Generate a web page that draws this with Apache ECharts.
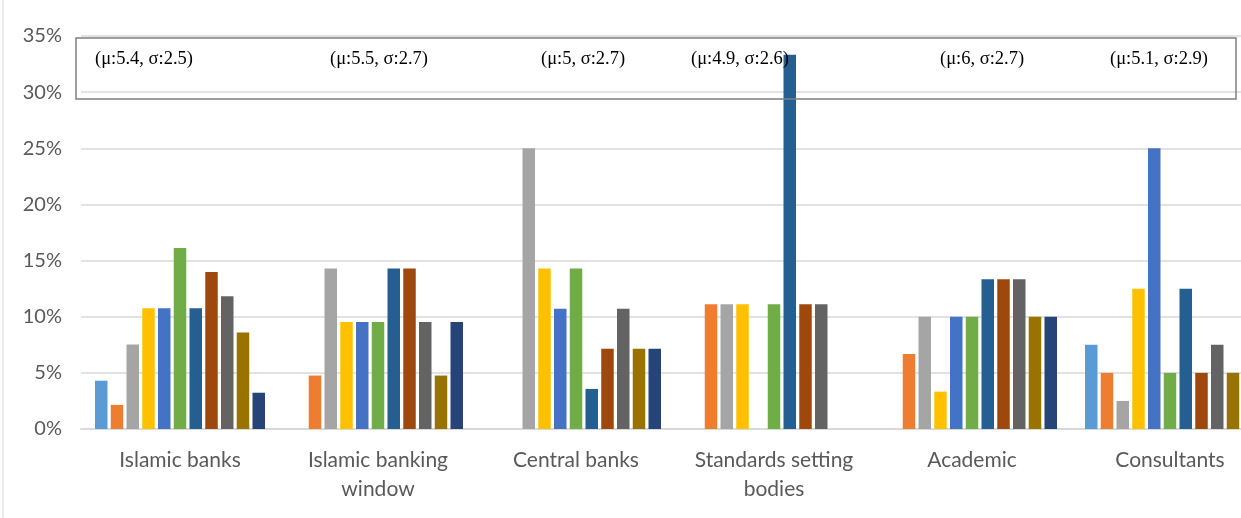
<!DOCTYPE html>
<html>
<head>
<meta charset="utf-8">
<script src="https://cdn.jsdelivr.net/npm/echarts@6/dist/echarts.min.js"></script>
<style>
  html, body { margin: 0; padding: 0; background: #fff; }
  #main { width: 1241px; height: 518px; }
</style>
</head>
<body>
<div id="main"></div>
<script>
// categories (respondent groups)
var categories = ["Islamic banks", "Islamic banking\nwindow", "Central banks", "Standards setting\nbodies", "Academic", "Consultants"];

// share of answers per score (0..10), in %
var score0 = [4.30, 0, 0, 0, 0, 7.50];
var score1 = [2.15, 4.76, 0, 11.11, 6.67, 5.00];
var score2 = [7.53, 14.29, 25.00, 11.11, 10.00, 2.50];
var score3 = [10.75, 9.52, 14.29, 11.11, 3.33, 12.50];
var score4 = [10.75, 9.52, 10.71, 0, 10.00, 25.00];
var score5 = [16.13, 9.52, 14.29, 11.11, 10.00, 5.00];
var score6 = [10.75, 14.29, 3.57, 33.33, 13.33, 12.50];
var score7 = [13.98, 14.29, 7.14, 11.11, 13.33, 5.00];
var score8 = [11.83, 9.52, 10.71, 11.11, 13.33, 7.50];
var score9 = [8.60, 4.76, 7.14, 0, 10.00, 5.00];
var score10 = [3.23, 9.52, 7.14, 0, 10.00, 12.50];

var scoreNames = ["0", "1", "2", "3", "4", "5", "6", "7", "8", "9", "10"];
var allScores = [score0, score1, score2, score3, score4, score5, score6, score7, score8, score9, score10];

// mean / std-dev note per group
var notes = ["(μ:5.4, σ:2.5)", "(μ:5.5, σ:2.7)", "(μ:5, σ:2.7)", "(μ:4.9, σ:2.6)", "(μ:6, σ:2.7)", "(μ:5.1, σ:2.9)"];
var noteX = [95, 330, 541, 691, 940, 1110];

var colors = ["#5B9BD5", "#ED7D31", "#A5A5A5", "#FFC000", "#4472C4", "#70AD47", "#255E91", "#9E480E", "#636363", "#997300", "#264478"];

var myChart = echarts.init(document.getElementById("main"));

var series = allScores.map(function (vals, i) {
  return {
    name: scoreNames[i],
    type: "bar",
    data: vals,
    barWidth: 12.5,
    barGap: "26%",
    itemStyle: { color: colors[i] }
  };
});

var graphic = [
  {
    type: "line",
    shape: { x1: 3, y1: 0, x2: 3, y2: 518 },
    style: { stroke: "#d9d9d9", lineWidth: 1 }
  },
  {
    type: "rect",
    z: 100,
    shape: { x: 76, y: 38, width: 1160, height: 61 },
    style: { fill: "none", stroke: "#7f7f7f", lineWidth: 1.5 }
  }
];
notes.forEach(function (t, i) {
  graphic.push({
    type: "text",
    z: 101,
    x: noteX[i],
    y: 59,
    style: {
      text: t,
      fill: "#000",
      font: '18.5px "Liberation Serif", "DejaVu Serif", serif',
      verticalAlign: "middle"
    }
  });
});

var option = {
  animation: false,
  color: colors,
  // plot runs past the right edge (picture is cropped there)
  grid: { left: 81, width: 1188, top: 36, bottom: 89, outerBoundsMode: "none" },
  xAxis: {
    type: "category",
    data: categories,
    axisTick: { show: false },
    axisLine: { lineStyle: { color: "#d9d9d9", width: 2 } },
    axisLabel: {
      color: "#595959",
      fontFamily: "Lato",
      fontSize: 21,
      lineHeight: 29,
      margin: 17,
      interval: 0
    }
  },
  yAxis: {
    type: "value",
    min: 0,
    max: 35,
    interval: 5,
    axisLine: { show: false },
    axisTick: { show: false },
    splitLine: { lineStyle: { color: "#d9d9d9", width: 1.5 } },
    axisLabel: {
      formatter: "{value}%",
      color: "#595959",
      fontFamily: "Lato",
      fontSize: 20,
      margin: 19
    }
  },
  graphic: graphic,
  series: series
};

myChart.setOption(option);
</script>
</body>
</html>
